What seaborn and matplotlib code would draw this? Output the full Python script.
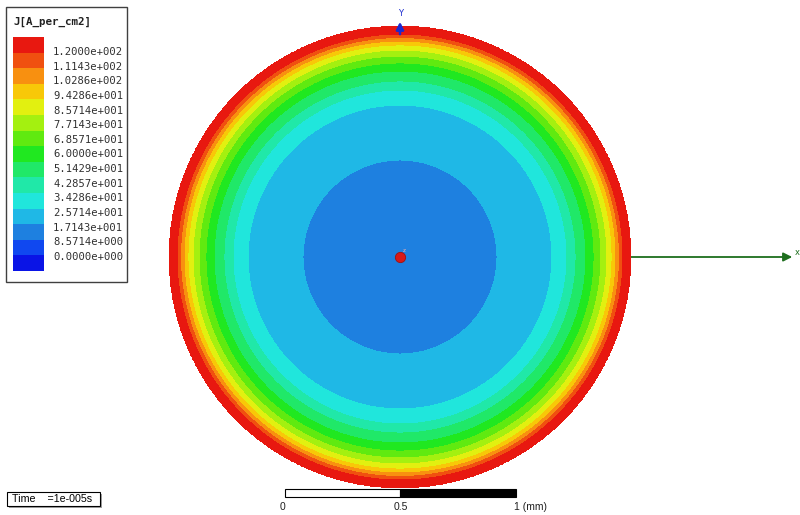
import numpy as np
import matplotlib
matplotlib.use("Agg")
import matplotlib.pyplot as plt
import seaborn as sns
from matplotlib.colors import ListedColormap
from matplotlib.patches import Rectangle

sns.set_style("white")

# contour levels of J (A/cm2), as in the legend
levels = [0.0, 8.5714, 17.143, 25.714, 34.286, 42.857, 51.429, 60.0,
          68.571, 77.143, 85.714, 94.286, 102.86, 111.43, 120.0]
level_labels = ["0.0000e+000", "8.5714e+000", "1.7143e+001", "2.5714e+001",
                "3.4286e+001", "4.2857e+001", "5.1429e+001", "6.0000e+001",
                "6.8571e+001", "7.7143e+001", "8.5714e+001", "9.4286e+001",
                "1.0286e+002", "1.1143e+002", "1.2000e+002"]
band_colors = ["#0a14e6", "#1048f0", "#1e80e0", "#1fb8e6", "#20e6dc",
               "#20e8a8", "#20e868", "#20e820", "#60ea10", "#a4f010",
               "#e2f010", "#f8c808", "#f89010", "#f05010", "#e81810"]

# radial J profile (skin effect, wire radius 1 mm)
radius_mm = [0.0, 0.42, 0.658, 0.723, 0.762, 0.805, 0.840, 0.870,
             0.896, 0.918, 0.935, 0.950, 0.965, 1.0]
j_profile = [20.0, 25.714, 34.286, 42.857, 51.429, 60.0, 68.571, 77.143,
             85.714, 94.286, 102.86, 111.43, 120.0, 125.0]

W, H = 800, 515
PX = 231.0          # pixels per mm
CX, CY = 400, 257   # wire centre in pixels


def fx(x):
    return x / W


def fy(y):
    return 1 - y / H


fig = plt.figure(figsize=(W / 100, H / 100), dpi=100)
fig.patch.set_facecolor("white")
ax = fig.add_axes([0, 0, 1, 1])
ax.set_xlim(-CX / PX, (W - CX) / PX)
ax.set_ylim(-(H - CY) / PX, CY / PX)
ax.set_aspect("equal")
ax.axis("off")

# field on a grid
g = np.linspace(-1.0, 1.0, 1201)
X, Y = np.meshgrid(g, g)
R = np.hypot(X, Y)
J = np.interp(R, radius_mm, j_profile)
J[R > 1.0] = np.nan

cmap = ListedColormap(sns.color_palette(band_colors))
bounds = levels + [levels[-1] + (levels[1] - levels[0])]
cf = ax.contourf(X, Y, J, levels=bounds, cmap=cmap, zorder=2)

# axis triad
ax.annotate("", xy=((795 - CX) / PX, 0), xytext=(0, 0),
            arrowprops=dict(arrowstyle="-|>", color="#1e6e1e", lw=1.3,
                            mutation_scale=13), zorder=1)
ax.text((797 - CX) / PX, (CY - 252) / PX, "x", color="#1e6e1e",
        fontsize=6, ha="center", va="center")
ax.annotate("", xy=(0, (CY - 19) / PX), xytext=(0, (CY - 37) / PX),
            arrowprops=dict(arrowstyle="-|>", color="#1a2ad0", lw=1.8,
                            mutation_scale=11), zorder=5)
ax.text((401 - CX) / PX, (CY - 13) / PX, "Y", color="#1a2ad0",
        fontsize=6, ha="center", va="center", zorder=5)
ax.scatter([0], [0], s=55, color="#d81818", edgecolor="#a01010",
           linewidth=0.6, zorder=6)
ax.text((404 - CX) / PX, (CY - 250) / PX, "z", color="#f0b0b0",
        fontsize=4, ha="center", va="center", zorder=6)

# scale bar, 1 mm
ax.add_patch(Rectangle((-0.5, (CY - 497) / PX), 0.5, 8 / PX,
                       facecolor="white", edgecolor="black", lw=0.8, zorder=3))
ax.add_patch(Rectangle((0.0, (CY - 497) / PX), 0.5, 8 / PX,
                       facecolor="black", edgecolor="black", lw=0.8, zorder=3))
sfont = dict(family="Liberation Sans", fontsize=7.5, color="#202020",
             va="center")
fig.text(fx(283), fy(507), "0", ha="center", **sfont)
fig.text(fx(401), fy(507), "0.5", ha="center", **sfont)
fig.text(fx(514), fy(507), "1 (mm)", ha="left", **sfont)

# legend box
fig.add_artist(Rectangle((fx(6), fy(282)), 121 / W, 275 / H,
                         transform=fig.transFigure, facecolor="white",
                         edgecolor="#404040", lw=1.0, zorder=1))
fig.text(fx(13), fy(22), "J[A_per_cm2]", family="DejaVu Sans Mono",
         weight="bold", fontsize=7.8, color="#202020", va="center", zorder=4)
cax = fig.add_axes([fx(13), fy(271), 31 / W, 234 / H])
cax.set_zorder(5)
cb = fig.colorbar(cf, cax=cax)
cb.outline.set_visible(False)
cax.set_yticks([])
for i in range(len(level_labels)):
    fig.text(fx(53), fy(52 + i * 14.64), level_labels[-1 - i],
             family="DejaVu Sans Mono", fontsize=7.6, color="#303030",
             va="center", zorder=4)

# time box
fig.add_artist(Rectangle((fx(9), fy(508)), 93 / W, 14 / H,
                         transform=fig.transFigure, facecolor="#a0a0a0",
                         edgecolor="none"))
fig.add_artist(Rectangle((fx(7), fy(506)), 93 / W, 14 / H,
                         transform=fig.transFigure, facecolor="white",
                         edgecolor="black", lw=0.8))
fig.text(fx(12), fy(499), "Time    =1e-005s", family="Liberation Sans",
         fontsize=7.7, color="black", va="center", zorder=4)

fig.savefig("out.png", dpi=100, facecolor="white")
